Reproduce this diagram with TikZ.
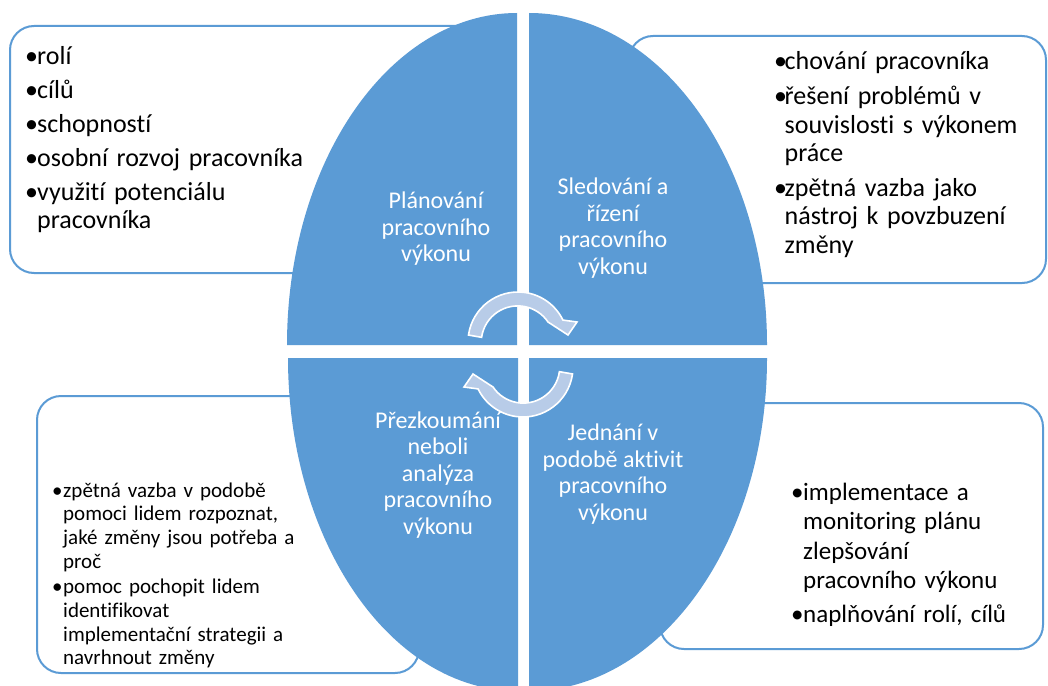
\documentclass[tikz,border=0pt]{standalone}
\usepackage{fontspec}
\setmainfont{Carlito}[Ligatures=CommonOff]
\definecolor{accent}{RGB}{91,155,213}
\definecolor{cyclefill}{RGB}{184,204,232}

\newlength\bulw
% one bulleted paragraph, later lines hang under the text
\newcommand\bitem[1]{\noindent\hangindent=\bulw\hangafter=1\makebox[\bulw][l]{\kern-1pt•}#1\par}

\tikzset{
  panel/.style={draw=accent, line width=2pt, fill=white, rounded corners=24pt,
                anchor=north west, outer sep=0pt, inner sep=0pt},
  quadrant/.style={fill=accent},
  cyclearrow/.style={fill=cyclefill, draw=white, line width=1.6pt, line join=miter},
  hubtext/.style={text=white, font=\fontsize{24}{26.5}\selectfont, align=center, inner sep=0pt},
  notes/.style={anchor=base west, inner sep=0pt, text width=#1}
}

\begin{document}
\begin{tikzpicture}[x=1pt, y=-1pt]
\useasboundingbox (0,0) rectangle (1048,685);
\fill[white] (0,0) rectangle (1048,685);

% rounded panels behind the ellipse
\node[panel, minimum width=495pt, minimum height=247pt] (plannote) at (10,26) {};
\node[panel, minimum width=417pt, minimum height=247pt] (monitornote) at (629,36) {};
\node[panel, minimum width=382pt, minimum height=277pt] (reviewnote) at (37,396) {};
\node[panel, minimum width=383pt, minimum height=246pt] (actnote) at (660,403) {};

% four quarters of the ellipse
\fill[quadrant] (517,345) -- (287,345) arc[start angle=180, end angle=270, x radius=230, y radius=332] -- cycle;
\fill[quadrant] (529,345) -- (529,13) arc[start angle=270, end angle=360, x radius=238, y radius=332] -- cycle;
\fill[quadrant] (518,358) -- (518,691) arc[start angle=90, end angle=180, x radius=230, y radius=333] -- cycle;
\fill[quadrant] (529,358) -- (767,358) arc[start angle=0, end angle=90, x radius=238, y radius=333] -- cycle;

% circular arrows in the middle
\begin{scope}[shift={(518,342)}]
  \filldraw[cyclearrow] (188:50) arc[start angle=188, end angle=334, radius=50]
    -- (59,-20) -- (50,-7) -- (30,-20)
    arc[start angle=326, end angle=188, radius=36.5] -- cycle;
\end{scope}
\begin{scope}[shift={(523,367)}, rotate=180]
  \filldraw[cyclearrow] (188:50) arc[start angle=188, end angle=334, radius=50]
    -- (59,-20) -- (50,-7) -- (30,-20)
    arc[start angle=326, end angle=188, radius=36.5] -- cycle;
\end{scope}

% labels of the quarters
\node[hubtext] (hubplan) at (436,229) {Plánování\\pracovního\\výkonu};
\node[hubtext] (hubmonitor) at (613,228) {Sledování a\\řízení\\pracovního\\výkonu};
\node[hubtext] (hubreview) at (438,475) {Přezkoumání\\neboli\\analýza\\pracovního\\výkonu};
\node[hubtext] (hubact) at (613,474) {Jednání v\\podobě aktivit\\pracovního\\výkonu};

% bulleted notes
\node[notes=320pt, font=\fontsize{26}{28.5}\selectfont] (plantext) at (26,64)
  {\setlength\bulw{11pt}\setlength\parskip{5.5pt}%
   \bitem{rolí}\bitem{cílů}\bitem{schopností}\bitem{osobní rozvoj pracovníka}%
   \bitem{využití potenciálu\newline pracovníka}};
\node[notes=270pt, font=\fontsize{26}{28.5}\selectfont] (monitortext) at (775,70)
  {\setlength\bulw{9.5pt}\setlength\parskip{6pt}%
   \bitem{chování pracovníka}\bitem{řešení problémů v\newline souvislosti s výkonem\newline práce}%
   \bitem{zpětná vazba jako\newline nástroj k povzbuzení\newline změny}};
\node[notes=320pt, font=\fontsize{21}{23.8}\selectfont] (reviewtext) at (53,497)
  {\setlength\bulw{10pt}\setlength\parskip{1.2pt}%
   \bitem{zpětná vazba v podobě\newline pomoci lidem rozpoznat,\newline jaké změny jsou potřeba a\newline proč}%
   \bitem{pomoc pochopit lidem\newline identifikovat\newline implementační strategii a\newline navrhnout změny}};
\node[notes=250pt, font=\fontsize{25}{29.5}\selectfont] (acttext) at (792,500)
  {\setlength\bulw{11pt}\setlength\parskip{4.5pt}%
   \bitem{implementace a\newline monitoring plánu\newline zlepšování\newline pracovního výkonu}%
   \bitem{naplňování rolí, cílů}};
\end{tikzpicture}
\end{document}
